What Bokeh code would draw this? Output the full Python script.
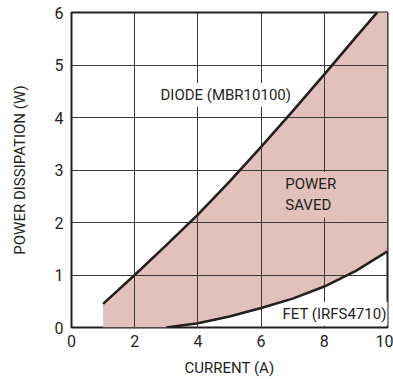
from bokeh.plotting import figure
from bokeh.models import Label, FixedTicker, Range1d
from bokeh.embed import file_html
from bokeh.resources import INLINE

# data
diode_current = [1, 2, 3, 4, 5, 6, 7, 8, 9, 10]
diode_power = [0.45, 1.0, 1.57, 2.15, 2.78, 3.44, 4.12, 4.82, 5.53, 6.23]
fet_current = [3, 4, 5, 6, 7, 8, 9, 10]
fet_power = [0.0, 0.08, 0.21, 0.37, 0.55, 0.78, 1.08, 1.45]
x_ticks = [0, 2, 4, 6, 8, 10]
y_ticks = [0, 1, 2, 3, 4, 5, 6]

# lower edge of the shaded region: zero where FET curve not yet defined
lower = [0.0] * (len(diode_current) - len(fet_current)) + fet_power

FONT = "Roboto"
FS = "15px"
TICK_FS = "16px"
INK = "#231f20"
PINK = "#e2c0bb"

p = figure(width=393, height=379, x_range=Range1d(0, 10), y_range=Range1d(0, 6),
           output_backend="svg", toolbar_location=None,
           min_border_left=71, min_border_right=6, min_border_top=12, min_border_bottom=51)

area = p.varea(x=diode_current, y1=lower, y2=diode_power, fill_color=PINK, fill_alpha=1.0)
area.level = "image"

p.line(diode_current, diode_power, line_color=INK, line_width=2.6)
p.line(fet_current, fet_power, line_color=INK, line_width=2.6)

p.xaxis.ticker = FixedTicker(ticks=x_ticks)
p.yaxis.ticker = FixedTicker(ticks=y_ticks)
p.xaxis.axis_label = "CURRENT (A)"
p.yaxis.axis_label = "POWER DISSIPATION (W)"

for ax in (p.xaxis[0], p.yaxis[0]):
    ax.axis_line_color = None
    ax.major_tick_line_color = None
    ax.minor_tick_line_color = None
    ax.major_tick_out = 0
    ax.major_tick_in = 0
    ax.major_label_text_font = FONT
    ax.major_label_text_font_size = TICK_FS
    ax.major_label_text_color = INK
    ax.axis_label_text_font = FONT
    ax.axis_label_text_font_size = FS
    ax.axis_label_text_font_style = "normal"
    ax.axis_label_text_color = INK

p.xaxis.major_label_standoff = 7
p.xaxis.axis_label_standoff = 9
p.yaxis.major_label_standoff = 8
p.yaxis.axis_label_standoff = 23

p.xgrid.ticker = FixedTicker(ticks=x_ticks)
p.ygrid.ticker = FixedTicker(ticks=y_ticks)
for g in (p.xgrid[0], p.ygrid[0]):
    g.grid_line_color = "#3a3a3a"
    g.grid_line_width = 1
    g.grid_line_alpha = 1.0

p.outline_line_color = INK
p.outline_line_width = 2
p.outline_line_alpha = 1.0
p.background_fill_color = "white"
p.border_fill_color = "white"

labels = [
    Label(x=2.72, y=4.43, text="DIODE (MBR10100)", background_fill_color="white"),
    Label(x=6.67, y=2.53, text="POWER\nSAVED", background_fill_color=PINK),
    Label(x=6.58, y=0.26, text="FET (IRFS4710)", background_fill_color="white"),
]
for lab in labels:
    lab.text_align = "left"
    lab.text_baseline = "middle"
    lab.text_font = FONT
    lab.text_font_size = FS
    lab.text_color = INK
    lab.padding = 3
    lab.level = "underlay"   # above grid, below curves
    p.add_layout(lab)

open("out.html", "w").write(file_html(p, INLINE))
